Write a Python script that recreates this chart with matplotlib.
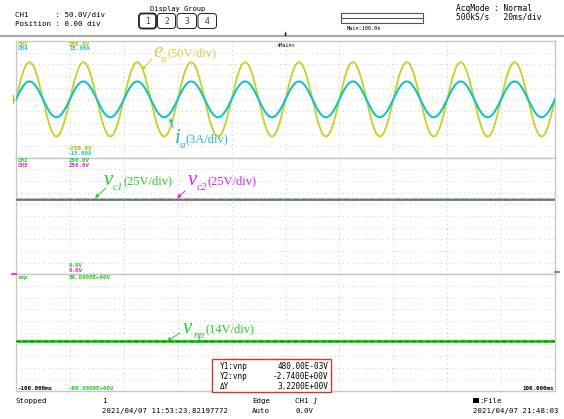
"""
示波器截图复刻：e_a / i_a / v_c1 / v_c2 / v_np 波形
"""
import numpy as np
import matplotlib
matplotlib.use("Agg")
import matplotlib.pyplot as plt
from matplotlib.patches import FancyBboxPatch, Rectangle

W, H = 564, 419            # 输出像素
L, R = 16, 555             # 屏幕网格左右边界(px)
PANEL_Y = [41, 157.7, 274.3, 391]   # 三个分区的上下边界(px)

# ---- 读数 ----
T_RANGE_MS = [-100, 100]   # 20ms/div, 10 div
FREQ_HZ = 50
EA_PEAK_V = 159.0          # CH1, 50V/div
IA_PEAK_A = 4.6            # CH4, 3A/div
VC1_V = 160.0              # CH2
VC2_V = 160.0              # CH3
VNP_V = -0.5               # vnp

CH1_RANGE = [-250, 250]
CH4_RANGE = [-15, 15]
CH23_RANGE = [0, 250]
VNP_RANGE = [-60, 80]

CURSOR_NAMES = ["Y1:vnp", "Y2:vnp", "\u0394Y"]
CURSOR_VALUES = ["480.00E-03V", "-2.7400E+00V", "3.2200E+00V"]

YEL = "#c4d21e"
YEL_TXT = "#a9b800"
CYAN = "#12c2cc"
GREEN = "#22cc22"
DKGREEN = "#128a12"
MAG = "#e020e0"
GRIDC = "#c4c4c4"
MONO = "DejaVu Sans Mono"
SERIF = "Liberation Serif"

fig = plt.figure(figsize=(W / 100, H / 100), dpi=100)
fig.patch.set_facecolor("white")


def panel(i, ylim):
    yt, yb = PANEL_Y[i], PANEL_Y[i + 1]
    ax = fig.add_axes([L / W, 1 - yb / H, (R - L) / W, (yb - yt) / H])
    ax.set_xlim(*T_RANGE_MS); ax.set_ylim(*ylim)
    ax.set_xticks([]); ax.set_yticks([])
    for s in ax.spines.values():
        s.set_color("#c8c8c8"); s.set_linewidth(1.0)
    for x in np.linspace(*T_RANGE_MS, 11)[1:-1]:
        ax.axvline(x, color=GRIDC, lw=0.7, ls=(0, (1, 3.6)), zorder=0)
    for y in np.linspace(*ylim, 11)[1:-1]:
        ax.axhline(y, color=GRIDC, lw=0.7, ls=(0, (1, 3.6)), zorder=0)
    return ax


t = np.linspace(*T_RANGE_MS, 4001)
phase = 2 * np.pi * FREQ_HZ * t / 1000.0

# ---- 分区1：e_a, i_a ----
ax1 = panel(0, CH1_RANGE)
ax1.plot(t, EA_PEAK_V * np.sin(phase), color=YEL, lw=1.3, zorder=2)
ax1b = ax1.twinx()
ax1b.set_ylim(*CH4_RANGE); ax1b.axis("off")
ax1b.plot(t, IA_PEAK_A * np.sin(phase), color=CYAN, lw=1.5, zorder=3)

# ---- 分区2：v_c1, v_c2 ----
ax2 = panel(1, CH23_RANGE)
ax2.plot(t, np.full_like(t, VC1_V), color=GREEN, lw=1.8, zorder=2)
ax2.plot(t, np.full_like(t, VC2_V), color=MAG, lw=1.1, ls=(0, (4, 1.5)), zorder=3)

# ---- 分区3：v_np ----
ax3 = panel(2, VNP_RANGE)
ax3.plot(t, np.full_like(t, VNP_V), color=GREEN, lw=2.2, zorder=2)
ax3.plot(t, np.full_like(t, VNP_V), color=DKGREEN, lw=1.0, ls=(0, (3, 2)), zorder=3)

# ---- 覆盖层：文字与装饰(像素坐标) ----
ov = fig.add_axes([0, 0, 1, 1], zorder=10)
ov.set_xlim(0, W); ov.set_ylim(H, 0); ov.axis("off"); ov.patch.set_alpha(0)


def txt(x, y, s, size=5.3, color="black", **kw):
    kw.setdefault("family", MONO)
    ov.text(x, y, s, fontsize=size, color=color, va="center", ha=kw.pop("ha", "left"), **kw)


ov.plot([0, W], [36.5, 36.5], color="#a8a8a8", lw=1.5)

txt(15, 15.5, "CH1      : 50.0V/div", 5.4)
txt(15, 24, "Position : 0.00 div", 5.4)
txt(178, 9, "Display Group", 5.1, ha="center")
for i, (x0, x1) in enumerate([(139, 156), (157.5, 175.5), (177, 196.5), (198, 216.5)]):
    ov.add_patch(FancyBboxPatch((x0, 13.5), x1 - x0, 15,
                                boxstyle="round,pad=0,rounding_size=3",
                                fc="white", ec="#222222", lw=1.3 if i == 0 else 0.7))
    txt((x0 + x1) / 2, 21, str(i + 1), 5.8, color="#2a3f7a", ha="center")

ov.add_patch(Rectangle((341, 13.5), 82, 10, fc="white", ec="#555555", lw=0.8))
ov.plot([341, 423], [18.5, 18.5], color="#555555", lw=0.8)
txt(347, 28.5, "Main:100.0k", 3.8)
txt(456, 8.5, "AcqMode : Normal", 5.7)
txt(456, 16.5, "500kS/s   20ms/div", 5.7)
txt(285, 33, "\u21a1", 6, ha="center")
txt(286, 45.5, "<Main>", 3.8, ha="center")

# 通道标签
small = dict(size=4.2, weight="bold")
txt(18, 44, "CH1", color=YEL_TXT, **small); txt(69, 44, "250.0V", color=YEL_TXT, **small)
txt(18, 49, "CH4", color=CYAN, **small); txt(69, 49, "15.00A", color=CYAN, **small)
txt(67, 148, "-250.0V", color=YEL_TXT, **small); txt(67, 153, "-15.00A", color=CYAN, **small)
txt(18, 160.5, "CH2", color=GREEN, **small); txt(69, 160.5, "250.0V", color=GREEN, **small)
txt(18, 165.5, "CH3", color=MAG, **small); txt(69, 165.5, "250.0V", color=MAG, **small)
txt(69, 265, "0.0V", color=GREEN, **small); txt(69, 270, "0.0V", color=MAG, **small)
txt(18, 277.5, "vnp", color=GREEN, **small); txt(69, 277.5, "80.0000E+00V", color=GREEN, **small)
txt(17, 388.5, "-100.000ms", **small); txt(68, 388.5, "-60.0000E+00V", color=GREEN, **small)
txt(554, 388.5, "100.000ms", ha="right", **small)

# 左侧零位标记
txt(11, 99, "1", 4.5, color=YEL_TXT, weight="bold")
ov.plot([13, 13], [95, 103], color=YEL_TXT, lw=0.8)
ov.plot([12, 16], [274.3, 274.3], color=MAG, lw=1.2)
ov.plot([555, 559], [272, 272], color=MAG, lw=1.2)


def label(x, y, sym, sub, rest, color, arrow_from, arrow_to, sub_dx, rest_dx):
    ov.text(x, y, sym, fontsize=15, family=SERIF, style="italic", color=color,
            va="baseline")
    ov.text(x + sub_dx, y + 5, sub, fontsize=8, family=SERIF, style="italic", color=color,
            va="baseline")
    ov.text(x + rest_dx, y - 1, rest, fontsize=9, family=SERIF,
            color=color, va="baseline")
    ov.annotate("", xy=arrow_to, xytext=arrow_from,
                arrowprops=dict(arrowstyle="-|>", color=color, lw=0.7,
                                mutation_scale=5, shrinkA=0, shrinkB=0))


# 波形注释
label(153, 57, "e", "a", "(50V/div)", "#c8d23a", (152, 59), (142, 70), 8, 14)
label(175, 143, "i", "a", "(3A/div)", "#1fb8c8", (173, 128), (170, 118), 4.5, 11)
label(104, 185, "v", "c1", "(25V/div)", GREEN, (106, 188), (95, 198), 8.5, 20)
label(188, 185, "v", "c2", "(25V/div)", MAG, (185, 191), (177, 198), 8.5, 19)
label(183, 333, "v", "np", "(14V/div)", GREEN, (180, 333), (167, 341), 10.5, 22)

# 光标读数框
ov.add_patch(Rectangle((212, 359), 119, 32.5, fc="white", ec="#e03030", lw=1.0, zorder=5))
for k, (nm, val) in enumerate(zip(CURSOR_NAMES, CURSOR_VALUES)):
    y = 366 + 10 * k
    ov.text(220, y, nm, fontsize=5.6, family=MONO, va="center", zorder=6)
    ov.text(328, y, val, fontsize=5.6, family=MONO, va="center", ha="right", zorder=6)

# 底部状态栏
txt(16, 400.5, "Stopped")
txt(102, 400.5, "1")
txt(102, 411, "2021/04/07 11:53:23.82197772")
txt(252, 400.5, "Edge")
txt(252, 411, "Auto")
txt(295, 400.5, "CH1 \u0283")
txt(295, 411, "0.0V")
ov.add_patch(Rectangle((473, 397.5), 6, 5, fc="black", ec="none"))
txt(479, 400.5, ":File")
txt(473, 411, "2021/04/07 21:48:03")

fig.savefig("out.png", dpi=100)
